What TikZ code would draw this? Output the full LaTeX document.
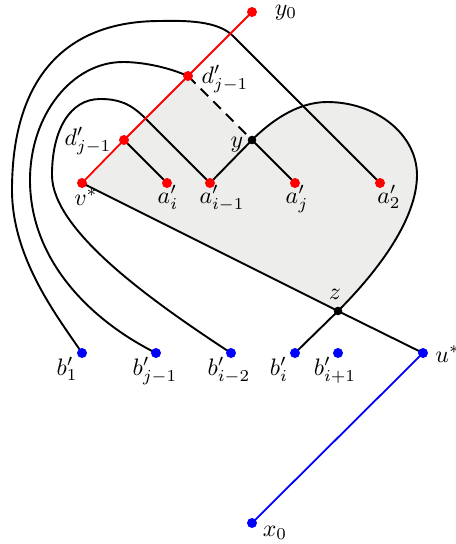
\documentclass[tikz,border=0pt]{standalone}
\begin{document}
\begin{tikzpicture}[x=0.42pt,y=-0.42pt,
  blk/.style={line width=0.8pt, black},
  redl/.style={line width=0.75pt, red},
  bluel/.style={line width=0.75pt, blue},
  lbl/.style={anchor=base, inner sep=0pt},
  rdot/.style={fill=red},
  bdot/.style={fill=blue},
  kdot/.style={fill=black},
]
\definecolor{regiongray}{RGB}{237,237,235}
\useasboundingbox (0,0) rectangle (456,544);
\coordinate (y0) at (252,12);
\coordinate (d2) at (188,76);
\coordinate (d1) at (124,140);
\coordinate (v) at (82,183);
\coordinate (ai) at (167,183);
\coordinate (aim) at (210,183);
\coordinate (y) at (252,140);
\coordinate (aj) at (295,183);
\coordinate (a2) at (380,183);
\coordinate (z) at (338,311);
\coordinate (b1) at (82,353);
\coordinate (bj) at (156,353);
\coordinate (bim) at (231,353);
\coordinate (bi) at (295,353);
\coordinate (bip) at (338,353);
\coordinate (u) at (423,353);
\coordinate (x0) at (252,523);
% shaded region
\fill[regiongray] (v) -- (d2) -- (y) .. controls (270,122) and (297,102) .. (327,102)
  .. controls (377,102) and (417,135) .. (417,175)
  .. controls (417,218) and (380,269) .. (z) -- cycle;
% black curves
\draw[blk] (y) .. controls (270,122) and (297,102) .. (327,102)
  .. controls (377,102) and (417,135) .. (417,175)
  .. controls (417,218) and (380,269) .. (z) -- (bi);
\draw[blk, dash pattern=on 4.5pt off 3pt] (d2) -- (y);
\draw[blk] (d1) -- (ai);
\draw[blk] (aim) -- (y) -- (aj);
\draw[blk] (v) -- (z) -- (u);
\draw[blk] (a2) -- (233,36) .. controls (220,23) and (195,20) .. (160,21)
  .. controls (62,21) and (12,82) .. (12,190)
  .. controls (12,260) and (60,320) .. (b1);
\draw[blk] (d2) .. controls (165,66) and (140,62) .. (123,62)
  .. controls (72,62) and (30,115) .. (30,180)
  .. controls (30,260) and (90,320) .. (bj);
\draw[blk] (aim) -- (145,118) .. controls (130,103) and (118,99) .. (100,99)
  .. controls (70,99) and (52,130) .. (52,175)
  .. controls (52,230) and (150,300) .. (bim);
% red and blue
\draw[redl] (v) -- (d1) -- (d2) -- (y0);
\draw[bluel] (u) -- (x0);
% dots
\foreach \p in {y0,d2,d1,v,ai,aim,aj,a2} \fill[rdot] (\p) circle (2.1pt);
\foreach \p in {b1,bj,bim,bi,bip,u,x0} \fill[bdot] (\p) circle (2.1pt);
\foreach \p in {y,z} \fill[kdot] (\p) circle (1.8pt);
% labels
\node[lbl] (ly0) at (286,15) {$y_0$};
\node[lbl] (ld2) at (225,83) {$d'_{j-1}$};
\node[lbl] (ld1) at (88,145) {$d'_{j-1}$};
\node[lbl] (lv) at (86,205) {$v^*$};
\node[lbl] (lai) at (168,203) {$a'_i$};
\node[lbl] (laim) at (222,203) {$a'_{i-1}$};
\node[lbl] (laj) at (297,203) {$a'_j$};
\node[lbl] (la2) at (389,203) {$a'_2$};
\node[lbl] (ly) at (237,147) {$y$};
\node[lbl] (lz) at (335,299) {$z$};
\node[lbl] (lb1) at (67,375) {$b'_1$};
\node[lbl] (lbj) at (155,375) {$b'_{j-1}$};
\node[lbl] (lbim) at (229,375) {$b'_{i-2}$};
\node[lbl] (lbi) at (279,375) {$b'_i$};
\node[lbl] (lbip) at (335,375) {$b'_{i+1}$};
\node[lbl, anchor=base west] (lu) at (435,362) {$u^*$};
\node[lbl] (lx0) at (275,536) {$x_0$};
\end{tikzpicture}
\end{document}
